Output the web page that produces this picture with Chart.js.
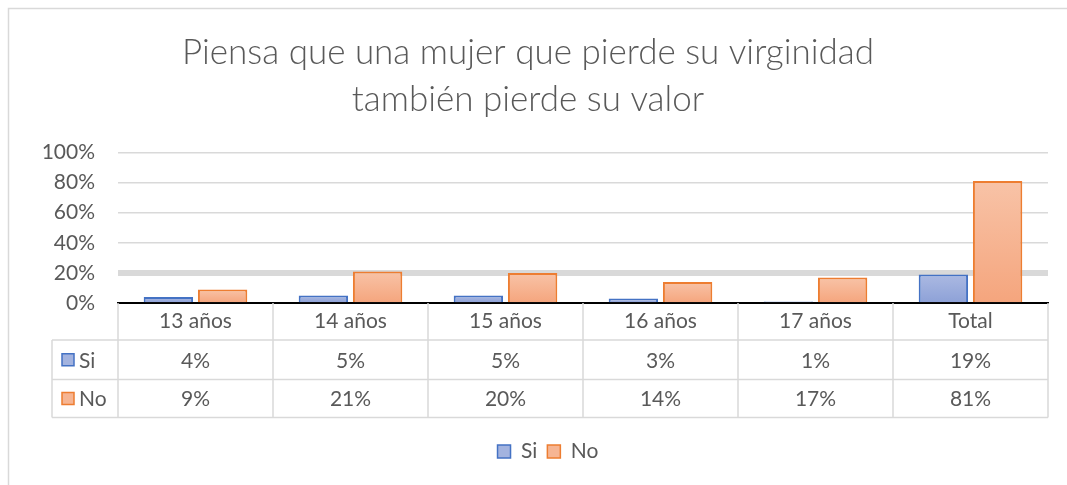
<!DOCTYPE html>
<html>
<head>
<meta charset="utf-8">
<script src="https://cdn.jsdelivr.net/npm/chart.js@4"></script>
<style>
  html, body { margin: 0; padding: 0; background: #fff; }
  #wrap { width: 1067px; height: 485px; }
</style>
</head>
<body>
<div id="wrap"><canvas id="barChart"></canvas></div>
<script>
const categories = ['13 años', '14 años', '15 años', '16 años', '17 años', 'Total'];
const seriesNames = ['Si', 'No'];
const siValues = [4, 5, 5, 3, 1, 19];
const noValues = [9, 21, 20, 14, 17, 81];
const yTickValues = [0, 20, 40, 60, 80, 100];

const textColor = '#595959';
const lineColor = '#d9d9d9';
const fontFamily = 'Lato, Carlito, "Open Sans", sans-serif';

// gradient per bar, light at the top, a bit darker at the base
function barFill(top, bottom, fallback) {
  return function(ctx) {
    const chart = ctx.chart;
    if (ctx.type !== 'data' || !chart.chartArea) return fallback;
    const y = chart.scales.y;
    const y0 = y.getPixelForValue(ctx.raw);
    const y1 = y.getPixelForValue(0);
    if (!isFinite(y0) || !isFinite(y1) || y0 === y1) return fallback;
    const g = chart.ctx.createLinearGradient(0, y0, 0, y1);
    g.addColorStop(0, top);
    g.addColorStop(1, bottom);
    return g;
  };
}

const dataTable = {
  id: 'dataTable',
  afterLayout(chart) {
    // the legend sits a little right of centre in the original
    if (chart.legend) chart.legend.left += 40;
  },
  beforeDraw(chart) {
    const ctx = chart.ctx;
    ctx.save();
    ctx.strokeStyle = lineColor;
    ctx.lineWidth = 1.5;
    ctx.strokeRect(8.5, 8.5, chart.width + 20, chart.height + 20);
    ctx.restore();
  },
  afterDraw(chart) {
    const ctx = chart.ctx;
    const area = chart.chartArea;
    const x = chart.scales.x;
    const n = categories.length;
    const colW = (area.right - area.left) / n;
    const rows = [area.bottom, area.bottom + 37, area.bottom + 76.5, area.bottom + 114.5];
    const keyLeft = area.left - 66;

    ctx.save();
    ctx.strokeStyle = lineColor;
    ctx.lineWidth = 1.5;
    ctx.beginPath();
    for (let r = 1; r < rows.length; r++) {
      ctx.moveTo(keyLeft, rows[r]);
      ctx.lineTo(area.right, rows[r]);
    }
    for (let i = 0; i <= n; i++) {
      const px = area.left + i * colW;
      ctx.moveTo(px, rows[0]);
      ctx.lineTo(px, rows[3]);
    }
    ctx.moveTo(keyLeft, rows[1]);
    ctx.lineTo(keyLeft, rows[3]);
    ctx.stroke();

    const series = [siValues, noValues];
    ctx.font = '21px ' + fontFamily;
    ctx.textBaseline = 'middle';
    for (let s = 0; s < series.length; s++) {
      const cy = (rows[s + 1] + rows[s + 2]) / 2;
      ctx.textAlign = 'center';
      ctx.fillStyle = textColor;
      series[s].forEach(function(v, i) {
        ctx.fillText(v + '%', x.getPixelForValue(i), cy + 1);
      });
      const ds = chart.data.datasets[s];
      ctx.fillStyle = ds.legendFill;
      ctx.strokeStyle = ds.borderColor;
      ctx.lineWidth = 1.5;
      ctx.fillRect(keyLeft + 10, cy - 6, 12, 12);
      ctx.strokeRect(keyLeft + 10, cy - 6, 12, 12);
      ctx.fillStyle = textColor;
      ctx.textAlign = 'left';
      ctx.fillText(seriesNames[s], keyLeft + 27, cy + 1);
    }
    ctx.restore();
  }
};

new Chart(document.getElementById('barChart'), {
  type: 'bar',
  data: {
    labels: categories,
    datasets: [
      {
        label: seriesNames[0],
        data: siValues,
        backgroundColor: barFill('#abb9e2', '#8da1d7', '#9cade0'),
        legendFill: '#a3b3df',
        borderColor: '#4472c4',
        borderWidth: 2,
        barPercentage: 0.91,
        categoryPercentage: 0.7
      },
      {
        label: seriesNames[1],
        data: noValues,
        backgroundColor: barFill('#f8c3a7', '#f5a57d', '#f6b28f'),
        legendFill: '#f6b593',
        borderColor: '#ed7d31',
        borderWidth: 2,
        barPercentage: 0.91,
        categoryPercentage: 0.7
      }
    ]
  },
  options: {
    responsive: true,
    maintainAspectRatio: false,
    animation: false,
    layout: {
      padding: { top: 0, left: 8, right: 19, bottom: 13 }
    },
    plugins: {
      title: {
        display: true,
        text: ['Piensa que una mujer que pierde su virginidad', 'también pierde su valor'],
        color: textColor,
        font: { family: fontFamily, size: 35, weight: '300', lineHeight: 1.343 },
        padding: { top: 29.5, bottom: 29 }
      },
      legend: {
        display: true,
        position: 'bottom',
        labels: {
          color: textColor,
          font: { family: fontFamily, size: 21 },
          boxWidth: 13,
          boxHeight: 13,
          padding: 10,
          generateLabels(chart) {
            return chart.data.datasets.map(function(ds, i) {
              return {
                text: ds.label,
                fillStyle: ds.legendFill,
                strokeStyle: ds.borderColor,
                lineWidth: 1.5,
                fontColor: textColor,
                datasetIndex: i
              };
            });
          }
        }
      },
      tooltip: { enabled: false }
    },
    scales: {
      x: {
        offset: true,
        grid: { display: false, drawTicks: false },
        border: { display: true, color: '#000000', width: 2 },
        ticks: {
          color: textColor,
          font: { family: fontFamily, size: 21 },
          padding: 6,
          maxRotation: 0
        },
        afterFit(scale) { scale.height = 128; }
      },
      y: {
        min: 0,
        max: 100,
        afterBuildTicks(scale) {
          scale.ticks = yTickValues.map(function(v) { return { value: v }; });
        },
        grid: {
          color: lineColor,
          lineWidth: function(ctx) { return ctx.tick && ctx.tick.value === 20 ? 6 : 1.5; },
          drawTicks: false
        },
        border: { display: false },
        ticks: {
          color: textColor,
          font: { family: fontFamily, size: 21 },
          padding: 23,
          callback: function(v) { return v + '%'; }
        },
        afterFit(scale) { scale.width = 110; }
      }
    }
  },
  plugins: [dataTable]
});
</script>
</body>
</html>
